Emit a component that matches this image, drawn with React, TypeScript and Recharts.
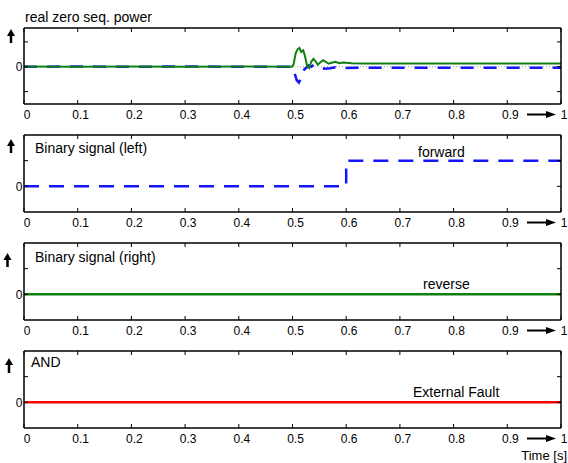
import { LineChart, Line, XAxis, YAxis, ReferenceLine } from 'recharts';

const xTicks = [0, 0.1, 0.2, 0.3, 0.4, 0.5, 0.6, 0.7, 0.8, 0.9, 1];

// real zero seq. power (two traces)
const powerGreenT = [0, 0.1, 0.2, 0.3, 0.4, 0.499, 0.502, 0.506, 0.51, 0.513, 0.516, 0.52, 0.523, 0.527, 0.531, 0.535, 0.539, 0.543, 0.547, 0.552, 0.557, 0.562, 0.567, 0.573, 0.58, 0.587, 0.595, 0.61, 0.63, 1];
const powerGreenV = [0.01, 0.0, 0.01, 0.0, 0.01, 0.0, 0.1, 0.55, 0.72, 0.76, 0.6, 0.66, 0.45, 0.05, -0.05, 0.2, 0.32, 0.22, 0.08, 0.18, 0.26, 0.2, 0.12, 0.16, 0.2, 0.14, 0.17, 0.14, 0.13, 0.13];
const powerBlueT = [0, 0.1, 0.2, 0.3, 0.4, 0.5, 0.503, 0.508, 0.512, 0.516, 0.52, 0.525, 0.53, 0.535, 0.54, 0.545, 0.55, 0.56, 0.57, 0.58, 0.6, 0.62, 1];
const powerBlueV = [0.0, 0.01, 0.0, 0.01, 0.0, 0.0, -0.2, -0.55, -0.64, -0.45, -0.15, -0.05, 0.05, 0.0, 0.08, 0.02, -0.02, -0.08, -0.06, -0.02, -0.05, -0.04, -0.04];

// binary signals
const leftT = [0, 0.6, 0.6, 1];
const leftV = [0, 0, 1, 1];
const rightT = [0, 1];
const rightV = [0, 0];
const andT = [0, 1];
const andV = [0, 0];

const zip = (t: number[], v: number[]) => t.map((x, i) => ({ t: x, v: v[i] }));

const FONT = '"Liberation Sans", Arial, sans-serif';

function XTick(props: any) {
  const { x, y, payload } = props;
  const v = payload.value;
  const label = v === 0 ? '0' : v === 1 ? '1' : v.toFixed(1);
  return (
    <g>
      {v === 1 && (
        <g>
          <line x1={x - 34} y1={y + 4.5} x2={x - 14} y2={y + 4.5} stroke="#000" strokeWidth={2} />
          <path d={`M${x - 5},${y + 4.5} L${x - 15},${y + 1} L${x - 15},${y + 8} Z`} fill="#000" />
        </g>
      )}
      <text x={x + 3} y={y} dy="0.71em" textAnchor="middle" fontSize={12} fontFamily={FONT} fill="#000">
        {label}
      </text>
    </g>
  );
}

const NoTick = () => <g />;

function Panel({ top, plotH, domain, yTicks, children }: any) {
  return (
    <div style={{ position: 'absolute', left: 0, top: top - 10 }}>
      <LineChart width={568} height={plotH + 32} margin={{ top: 0, right: 0, bottom: 0, left: 0 }}>
        <XAxis
          xAxisId="b"
          type="number"
          dataKey="t"
          domain={[0, 1]}
          ticks={xTicks}
          height={22}
          tickSize={-4}
          tickMargin={10}
          tick={XTick}
          allowDataOverflow
          axisLine={{ stroke: '#000', strokeWidth: 1.5 }}
          tickLine={{ stroke: '#000' }}
        />
        <XAxis
          xAxisId="t"
          orientation="top"
          type="number"
          dataKey="t"
          domain={[0, 1]}
          ticks={xTicks}
          height={10}
          tickSize={-4}
          tick={NoTick}
          allowDataOverflow
          axisLine={{ stroke: '#000', strokeWidth: 1.5 }}
          tickLine={{ stroke: '#000' }}
        />
        <YAxis
          yAxisId="l"
          type="number"
          domain={domain}
          ticks={yTicks}
          width={24}
          tickSize={-4}
          tickMargin={5.5}
          allowDataOverflow
          tickFormatter={(v: number) => (v === 0 ? '0' : '')}
          tick={{ fontSize: 12, fill: '#000', fontFamily: FONT }}
          axisLine={{ stroke: '#000', strokeWidth: 1.5 }}
          tickLine={{ stroke: '#000' }}
        />
        <YAxis
          yAxisId="r"
          orientation="right"
          type="number"
          domain={domain}
          ticks={yTicks}
          width={7}
          tickSize={-4}
          tick={NoTick}
          allowDataOverflow
          axisLine={{ stroke: '#000', strokeWidth: 1.5 }}
          tickLine={{ stroke: '#000' }}
        />
        {children}
      </LineChart>
    </div>
  );
}

function UpArrow({ x, y0, y1 }: { x: number; y0: number; y1: number }) {
  return (
    <g>
      <line x1={x} y1={y0 + 5} x2={x} y2={y1} stroke="#000" strokeWidth={2.5} />
      <path d={`M${x},${y0} L${x - 4},${y0 + 7} L${x + 4},${y0 + 7} Z`} fill="#000" />
    </g>
  );
}

export default function App() {
  const lineProps = {
    xAxisId: 'b',
    yAxisId: 'l',
    dataKey: 'v',
    dot: false,
    activeDot: false,
    isAnimationActive: false,
    type: 'linear' as const,
  };
  return (
    <div style={{ position: 'absolute', left: 0, top: 0, width: 568, height: 463, background: '#fff', fontFamily: FONT }}>
      <Panel top={28} plotH={76} domain={[-1.5, 1.56]} yTicks={[-1, 0, 1]}>
        <ReferenceLine xAxisId="b" yAxisId="l" y={0} stroke="#999" strokeDasharray="1 2" />
        <Line {...lineProps} data={zip(powerBlueT, powerBlueV)} stroke="#1414ff" strokeWidth={2.5} strokeDasharray="13 10" />
        <Line {...lineProps} data={zip(powerGreenT, powerGreenV)} stroke="#108010" strokeWidth={2} />
      </Panel>
      <Panel top={135} plotH={77} domain={[-1, 2]} yTicks={[0, 1]}>
        <Line {...lineProps} data={zip(leftT, leftV)} stroke="#1414ff" strokeWidth={2.5} strokeDasharray="15 10" />
      </Panel>
      <Panel top={243} plotH={77} domain={[-1, 2]} yTicks={[0, 1]}>
        <Line {...lineProps} data={zip(rightT, rightV)} stroke="#108010" strokeWidth={2.5} />
      </Panel>
      <Panel top={351} plotH={77} domain={[-1, 2]} yTicks={[0, 1]}>
        <Line {...lineProps} data={zip(andT, andV)} stroke="#ff0000" strokeWidth={2.5} />
      </Panel>
      <svg width={568} height={463} style={{ position: 'absolute', left: 0, top: 0, pointerEvents: 'none' }}>
        <g fontFamily={FONT} fill="#000">
          <text x={25} y={22} fontSize={14}>real zero seq. power</text>
          <text x={35} y={153} fontSize={14}>Binary signal (left)</text>
          <text x={418} y={157} fontSize={14}>forward</text>
          <text x={35} y={262} fontSize={14}>Binary signal (right)</text>
          <text x={423} y={289} fontSize={14}>reverse</text>
          <text x={31} y={367} fontSize={14}>AND</text>
          <text x={413} y={397} fontSize={14}>External Fault</text>
          <text x={567} y={460} fontSize={13} textAnchor="end">Time [s]</text>
        </g>
        <UpArrow x={11} y0={29} y1={43} />
        <UpArrow x={11} y0={139} y1={153} />
        <UpArrow x={7.5} y0={253} y1={267} />
        <UpArrow x={9} y0={358} y1={373} />
      </svg>
    </div>
  );
}
